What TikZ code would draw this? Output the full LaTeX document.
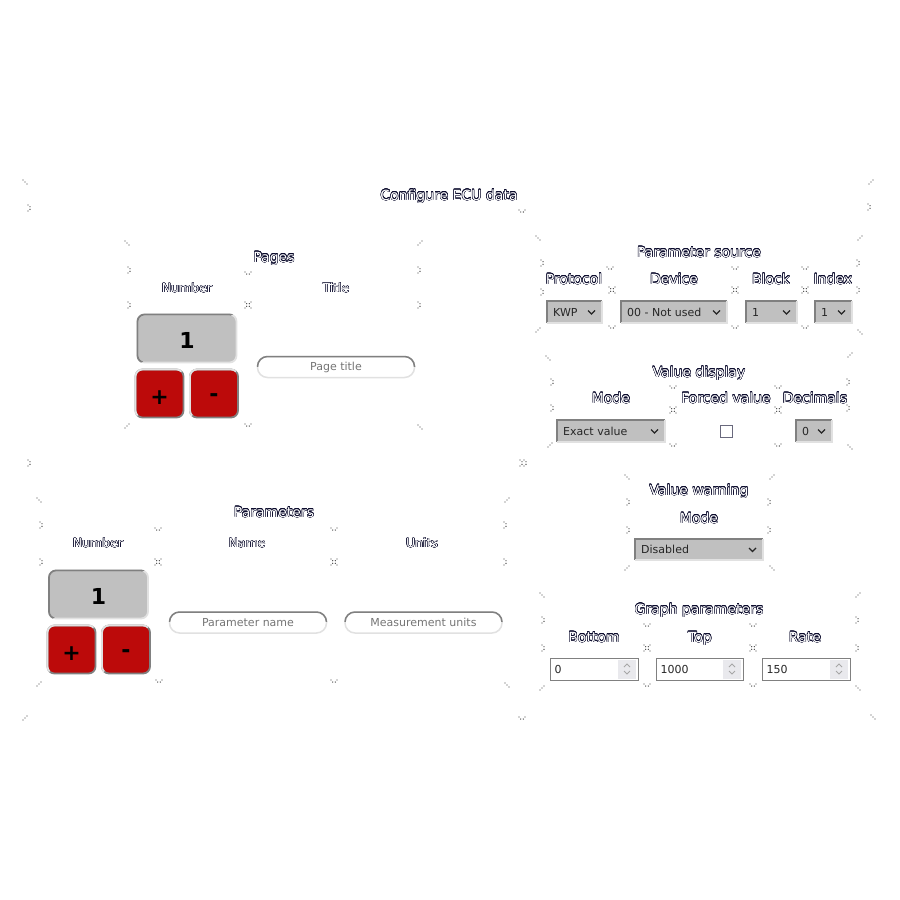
\documentclass[tikz,border=0pt]{standalone}
\usepackage{fontspec}
\setmainfont{DejaVu Sans}
\usepackage{contour}
\contourlength{0.38pt}
\definecolor{olc}{RGB}{12,12,45}
\definecolor{silv}{RGB}{192,192,192}
\definecolor{btnred}{RGB}{188,10,10}
\definecolor{gbord}{RGB}{140,140,140}
\definecolor{phgray}{RGB}{117,117,117}
\definecolor{dkbc}{RGB}{128,128,128}
\definecolor{ltbc}{RGB}{225,225,225}
\definecolor{spinbg}{RGB}{233,233,237}
\definecolor{mkcol}{RGB}{70,70,70}
\definecolor{cbox}{RGB}{105,105,125}
\newcommand\olt[1]{\contour{olc}{#1}}
% tiny corner marks
\newcommand\mka[2]{\begin{scope}[shift={(#1,#2)}]\fill[mkcol] (-2,-2) circle (0.7pt) (0,0) circle (0.7pt) (2,2) circle (0.7pt);\end{scope}}
\newcommand\mkb[2]{\begin{scope}[shift={(#1,#2)}]\fill[mkcol] (-2,2) circle (0.7pt) (0,0) circle (0.7pt) (2,-2) circle (0.7pt);\end{scope}}
\newcommand\mkc[2]{\begin{scope}[shift={(#1,#2)}]\fill[mkcol] (-1,-3) circle (0.7pt) (1,-1.3) circle (0.7pt) (1,1.3) circle (0.7pt) (-1,3) circle (0.7pt);\end{scope}}
\newcommand\mkh[2]{\begin{scope}[shift={(#1,#2)}]\fill[mkcol] (-3,-1) circle (0.7pt) (-1.3,1) circle (0.7pt) (1.3,1) circle (0.7pt) (3,-1) circle (0.7pt);\end{scope}}
\newcommand\mkd[2]{\begin{scope}[shift={(#1,#2)}]\fill[mkcol] (-3,-3) circle (0.7pt) (-1.3,-1.3) circle (0.7pt) (-1.3,1.3) circle (0.7pt) (-3,3) circle (0.7pt) (3,-3) circle (0.7pt) (1.3,-1.3) circle (0.7pt) (1.3,1.3) circle (0.7pt) (3,3) circle (0.7pt);\end{scope}}
% bevelled border: node, top-left colour, bottom-right colour, radius, line width
\newcommand\bev[5]{%
  \draw[draw=#3, line width=#5, rounded corners=#4] (#1.south west) rectangle (#1.north east);
  \begin{scope}
    \clip ([shift={(-4pt,-4pt)}]#1.south west) -- ([shift={(-4pt,4pt)}]#1.north west) -- ([shift={(4pt,4pt)}]#1.north east) -- cycle;
    \draw[draw=#2, line width=#5, rounded corners=#4] (#1.south west) rectangle (#1.north east);
  \end{scope}
}
% inset border for pill inputs: dark upper half, light lower half
\newcommand\pbev[1]{%
  \draw[draw=ltbc, line width=1.5pt, rounded corners=10pt] (#1.south west) rectangle (#1.north east);
  \begin{scope}
    \clip ([shift={(-4pt,1pt)}]#1.west) rectangle ([shift={(4pt,4pt)}]#1.north east);
    \draw[draw=dkbc, line width=1.5pt, rounded corners=10pt] (#1.south west) rectangle (#1.north east);
  \end{scope}
}
% dropdown
\newcommand\dd[6]{%
  \node[ddown, minimum width=#4pt, minimum height=#6pt] (#1) at (#2,#3) {};
  \draw[dkline] (#1.south west) |- (#1.north east);
  \draw[ltline] (#1.north east) |- (#1.south west);
  \node[wtext] (#1t) at ([xshift=6pt]#1.west) {#5};
  \draw[chev] ([xshift=-14pt,yshift=1.5pt]#1.east) -- ++(3.5,3.5) -- ++(3.5,-3.5);
}
% number input
\newcommand\numin[5]{%
  \node[numinput, minimum width=#4pt] (#1) at (#2,#3) {};
  \fill[spinbg] ([xshift=-21pt,yshift=-2pt]#1.north east) rectangle ([xshift=-2.5pt,yshift=2pt]#1.south east);
  \draw[spinch] ([xshift=-14.5pt,yshift=2pt]#1.east) -- ++(3,-3) -- ++(3,3);
  \draw[spinch] ([xshift=-14.5pt,yshift=-2pt]#1.east) -- ++(3,3) -- ++(3,-3);
  \node[wtext] (#1t) at ([xshift=5pt]#1.west) {#5};
}
\begin{document}
\begin{tikzpicture}[x=1pt,y=-1pt,
  ttl/.style={anchor=base, inner sep=0pt, text=white, font=\fontsize{14}{16}\selectfont},
  hdl/.style={anchor=base, inner sep=0pt, text=white, font=\fontsize{12.5}{15}\selectfont},
  hdr/.style={anchor=base, inner sep=0pt, text=white, font=\fontsize{14}{16}\selectfont},
  numbox/.style={fill=silv, rounded corners=7pt, minimum width=99pt, minimum height=48pt, inner sep=0pt, outer sep=0pt, text=black, text height=19pt, text depth=0pt, font=\bfseries\fontsize{22}{24}\selectfont},
  redbtn/.style={fill=btnred, rounded corners=7pt, minimum width=48pt, minimum height=48pt, inner sep=0pt, outer sep=0pt, text=black, text depth=0pt, font=\bfseries\fontsize{22}{24}\selectfont},
  pill/.style={fill=white, rounded corners=10pt, minimum width=157pt, minimum height=21pt, inner sep=0pt, outer sep=0pt, text=phgray, font=\fontsize{11}{13}\selectfont},
  ddown/.style={fill=silv, inner sep=0pt, outer sep=0pt},
  dkline/.style={draw=dkbc, line width=1.6pt},
  ltline/.style={draw=ltbc, line width=1.6pt},
  wtext/.style={anchor=west, inner sep=0pt, text=black!85, font=\fontsize{11}{13}\selectfont},
  chev/.style={draw=black!85, line width=1.3pt},
  numinput/.style={draw=black!50, line width=1pt, fill=white, minimum height=22pt, inner sep=0pt},
  spinch/.style={draw=black!35, line width=0.9pt},
  chk/.style={draw=cbox, line width=1.6pt, fill=white, minimum width=12pt, minimum height=12pt, inner sep=0pt}
]
\useasboundingbox (0,0) rectangle (900,900);
\fill[white] (0,0) rectangle (900,900);

% ---------- main title ----------
\node[ttl] (cfg) at (449,200) {\olt{Configure ECU data}};

% ---------- Pages ----------
\node[ttl] (pages) at (274,262) {\olt{Pages}};
\node[hdl] (pnumh) at (187,292.5) {\olt{Number}};
\node[hdl] (ptith) at (336,292.5) {\olt{Title}};
\node[numbox] (pnum) at (187,338.5) {1};
\bev{pnum}{dkbc}{ltbc}{7pt}{1.8pt}
\node[redbtn, text height=22.8pt] (pplus) at (159.5,393.5) {+};
\bev{pplus}{ltbc}{dkbc}{7pt}{1.8pt}
\node[redbtn, text height=15.6pt] (pminus) at (214,393.5) {-};
\bev{pminus}{ltbc}{dkbc}{7pt}{1.8pt}
\node[pill] (ptitle) at (336,367) {Page title};
\pbev{ptitle}

% ---------- Parameters ----------
\node[ttl] (params) at (274,517) {\olt{Parameters}};
\node[hdl] (qnumh) at (98,547.5) {\olt{Number}};
\node[hdl] (qnameh) at (247,547.5) {\olt{Name}};
\node[hdl] (qunith) at (422,547.5) {\olt{Units}};
\node[numbox] (qnum) at (98.5,594.5) {1};
\bev{qnum}{dkbc}{ltbc}{7pt}{1.8pt}
\node[redbtn, text height=22.8pt] (qplus) at (71.5,649.5) {+};
\bev{qplus}{ltbc}{dkbc}{7pt}{1.8pt}
\node[redbtn, text height=15.6pt] (qminus) at (126,649.5) {-};
\bev{qminus}{ltbc}{dkbc}{7pt}{1.8pt}
\node[pill] (qname) at (248,622.5) {Parameter name};
\pbev{qname}
\node[pill] (qunits) at (423.5,622.5) {Measurement units};
\pbev{qunits}

% ---------- Parameter source ----------
\node[ttl] (psrc) at (699,257) {\olt{Parameter source}};
\node[hdr] (proth) at (574,284) {\olt{Protocol}};
\node[hdr] (devh) at (674,284) {\olt{Device}};
\node[hdr] (blkh) at (771,284) {\olt{Block}};
\node[hdr] (idxh) at (833,284) {\olt{Index}};
\dd{dkwp}{574.5}{312}{55}{KWP}{22}
\dd{ddev}{674}{312}{106}{00 - Not used}{22}
\dd{dblk}{771.5}{312}{51}{1}{22}
\dd{didx}{833.5}{312}{37}{1}{22}

% ---------- Value display ----------
\node[ttl] (vdisp) at (699,377) {\olt{Value display}};
\node[hdr] (modeh) at (611,403) {\olt{Mode}};
\node[hdr] (forch) at (726,403) {\olt{Forced value}};
\node[hdr] (dech) at (815,403) {\olt{Decimals}};
\dd{dmode}{611}{431}{108}{Exact value}{22}
\node[chk] (forced) at (726.5,431.5) {};
\dd{ddec}{814}{431}{36}{0}{22}

% ---------- Value warning ----------
\node[ttl] (vwarn) at (699,495) {\olt{Value warning}};
\node[hdr] (wmodeh) at (699,523) {\olt{Mode}};
\dd{dwarn}{699}{549.5}{128}{Disabled}{21}

% ---------- Graph parameters ----------
\node[ttl] (gpar) at (699,614) {\olt{Graph parameters}};
\node[hdr] (both) at (594,642) {\olt{Bottom}};
\node[hdr] (toph) at (700,642) {\olt{Top}};
\node[hdr] (rateh) at (805,642) {\olt{Rate}};
\numin{gbot}{594}{669}{88}{0}
\numin{gtop}{699.5}{669}{87}{1000}
\numin{grate}{806}{669}{88}{150}

% ---------- marks ----------
% outer table
\mka{25}{182} \mkc{29}{208} \mkh{522}{211} \mkb{871}{182} \mkc{869}{207}
\mkc{29}{463} \mkc{521}{463} \mkc{525}{463} \mkb{25}{718} \mkh{522}{718} \mka{873}{717}
% pages
\mka{127}{243} \mkb{420}{243}
\mkc{129}{270} \mkh{248}{273} \mkc{419}{270}
\mkc{129}{305} \mkd{248}{305} \mkc{419}{305}
\mkb{127}{426} \mkh{248}{425} \mka{420}{427}
% parameters
\mka{39}{500} \mkb{507}{500}
\mkc{41}{525} \mkh{158}{529} \mkh{334}{529} \mkc{505}{525}
\mkc{41}{562} \mkd{158}{562} \mkd{334}{562} \mkc{505}{562}
\mkb{39}{684} \mkh{159}{681} \mkh{334}{681} \mka{507}{685}
% parameter source
\mka{538}{238} \mkb{860}{238}
\mkc{542}{263} \mkh{610}{268} \mkh{735}{268} \mkh{805}{268} \mkc{858}{263}
\mkc{542}{292} \mkd{612}{290} \mkd{735}{290} \mkd{805}{290} \mkc{858}{290}
\mkb{538}{330} \mkh{612}{327} \mkh{735}{327} \mkh{805}{327} \mka{860}{332}
% value display
\mka{548}{358} \mkb{850}{355}
\mkc{552}{382} \mkh{673}{387} \mkh{778}{387} \mkc{848}{382}
\mkc{552}{408} \mkd{673}{410} \mkd{778}{410} \mkc{848}{408}
\mkb{550}{445} \mkh{673}{445} \mkh{778}{445} \mka{850}{447}
% value warning
\mka{627}{477} \mkb{772}{477}
\mkc{628}{502} \mkc{769}{502}
\mkc{628}{530} \mkc{769}{530}
\mkb{627}{568} \mka{772}{568}
% graph parameters
\mka{542}{595} \mkb{858}{595}
\mkc{543}{620} \mkh{647}{625} \mkh{753}{625} \mkc{857}{620}
\mkc{543}{648} \mkd{647}{648} \mkd{753}{648} \mkc{857}{648}
\mkb{542}{688} \mkh{647}{685} \mkh{753}{685} \mka{858}{688}
\end{tikzpicture}
\end{document}
